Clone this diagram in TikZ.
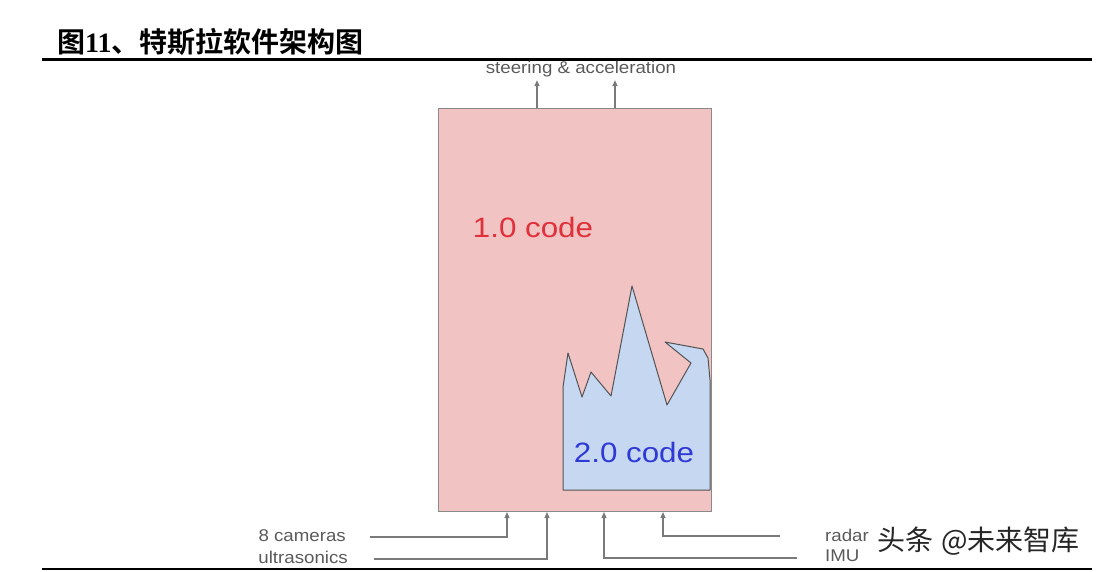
\documentclass[tikz,border=0pt]{standalone}
\usepackage{fontspec}
\setmainfont{Liberation Sans}
\newfontfamily\cjkbold{Noto Sans CJK SC Bold}
\newfontfamily\cjk{Noto Sans CJK SC}
\newfontfamily\serifb{Liberation Serif}
\usetikzlibrary{arrows.meta}
\newcommand{\hs}[1]{\scalebox{1.1}[1]{#1}}
\newcommand{\hc}[1]{\scalebox{1.12}[1]{#1}}
\definecolor{pinkfill}{HTML}{F1C3C3}
\definecolor{bluefill}{HTML}{C6D7F2}
\definecolor{boxline}{HTML}{8A8A8A}
\definecolor{codered}{HTML}{E0303A}
\definecolor{codeblue}{HTML}{2F3AD6}
\definecolor{lblgray}{HTML}{5A5A5A}
\definecolor{arrgray}{HTML}{7A7A7A}
\tikzset{
  lbl/.style={font=\fontsize{17}{17}\selectfont, text=lblgray, inner sep=0pt},
  arr/.style={draw=arrgray, line width=1.3pt, -{Triangle[length=6pt,width=5pt]}, shorten >=0.5pt},
  rule/.style={line width=2.8pt, black}
}
\begin{document}
\begin{tikzpicture}[x=1pt,y=-1pt]
\useasboundingbox (0,0) rectangle (1097,571);
% title
\node[anchor=west, inner sep=0pt, font=\fontsize{28}{28}\selectfont] (title) at (57,42)
  {\cjkbold 图{\serifb\bfseries 11}、特斯拉软件架构图};
\draw[rule] (42,59.5) -- (1092,59.5);
\draw[rule] (42,569) -- (1092,569);
% main box
\node[draw=boxline, fill=pinkfill, line width=1pt, minimum width=273pt, minimum height=403pt, inner sep=0pt] (box) at (574.5,309.5) {};
\node[text=codered, font=\fontsize{28}{28}\selectfont, inner sep=0pt] (one) at (533,227) {\hc{1.0 code}};
% 2.0 code shape
\draw[draw=boxline!60!black, fill=bluefill, line width=1pt, line join=round]
  (563,490) -- (563,387) -- (568,353) -- (582,397) -- (591,372) -- (611,396)
  -- (632,286) -- (667,405) -- (691,363) -- (665,342) -- (703,349) -- (708,358)
  -- (710,380) -- (710,490) -- cycle;
\node[text=codeblue, font=\fontsize{28}{28}\selectfont, inner sep=0pt] (two) at (634,452) {\hc{2.0 code}};
% outputs
\node[lbl] (steer) at (581,69.5) {\hs{steering \& acceleration}};
\coordinate (o1) at (537,0);
\coordinate (o2) at (615,0);
\draw[arr] (box.north -| o1) -- ([yshift=-2pt]steer.south -| o1);
\draw[arr] (box.north -| o2) -- ([yshift=-2pt]steer.south -| o2);
% inputs
\node[lbl, anchor=east] (cam) at (346,536) {\hs{8 cameras}};
\node[lbl, anchor=east] (ultra) at (348,557) {\hs{ultrasonics}};
\node[lbl, anchor=west] (radar) at (825,535) {\hs{radar}};
\node[lbl, anchor=west] (imu) at (825,556) {\hs{IMU}};
\coordinate (camstart) at (370,537);
\coordinate (ultrastart) at (374,559);
\coordinate (radarend) at (780,536);
\coordinate (imuend) at (797,558);
\coordinate (i1) at (507,0);
\coordinate (i2) at (547,0);
\coordinate (i3) at (604,0);
\coordinate (i4) at (663,0);
\draw[arr] (camstart) -| (box.south -| i1);
\draw[arr] (ultrastart) -| (box.south -| i2);
\draw[arr] (imuend) -| (box.south -| i3);
\draw[arr] (radarend) -| (box.south -| i4);
% watermark
\node[anchor=west, inner sep=0pt, text=black!85, font=\fontsize{28}{28}\selectfont] (wm) at (877,541) {\cjk 头条\hspace{8pt}@未来智库};
\end{tikzpicture}
\end{document}
